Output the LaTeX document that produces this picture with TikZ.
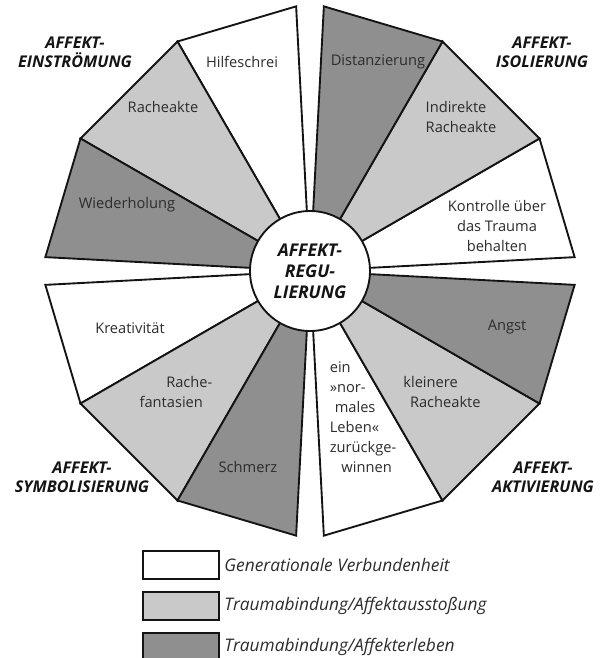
\documentclass[tikz,border=0pt]{standalone}
\usepackage{fontspec}
\setmainfont{Open Sans}
\usetikzlibrary{positioning}
\definecolor{affink}{HTML}{141414}
\definecolor{afflight}{HTML}{C9C9C9}
\definecolor{affdark}{HTML}{8F8F8F}
\tikzset{
  seg/.style={draw=affink, line width=1.6pt, line join=miter},
  lbl/.style={align=center, font=\fontsize{12.5}{17}\selectfont, text=affink!90, inner sep=0pt},
  ttl/.style={align=center, font=\fontsize{13.8}{16.5}\selectfont\bfseries\itshape, text=affink, inner sep=0pt},
  legbox/.style={draw=affink, line width=1.6pt, minimum width=22.8mm, minimum height=8.4mm, inner sep=0pt},
  legtxt/.style={font=\fontsize{14.8}{17}\selectfont\itshape, text=affink!90, inner sep=0pt},
}

\begin{document}
\begin{tikzpicture}[x=0.3mm, y=0.3mm]
  \useasboundingbox (-310,271) rectangle (293,-387);
  \foreach \a in {0,90,180,270}
    \foreach \f/\b/\e in {white/3/30, afflight/30/60, affdark/60/87}
      \draw[seg, fill=\f] (0,0) -- ({\a+\b}:265) -- ({\a+\e}:265) -- cycle;
  \node[circle, draw=affink, line width=1.6pt, fill=white, minimum size=36mm, ttl, font=\fontsize{15}{18}\selectfont\bfseries\itshape] (reg) at (0,0) {AFFEKT-\\REGU-\\LIERUNG};
  \node[lbl] (dist) at (68,209) {Distanzierung};
  \node[lbl, align=left] (indir) at (151,154) {Indirekte\\Racheakte};
  \node[lbl] (kontr) at (187,45) {Kontrolle über\\das Trauma\\behalten};
  \node[lbl] (hilfe) at (-68,209) {Hilfeschrei};
  \node[lbl] (rache) at (-147,164) {Racheakte};
  \node[lbl] (wieder) at (-183,66) {Wiederholung};
  \node[lbl] (kreat) at (-180,-57) {Kreativität};
  \node[lbl, align=left] (fant) at (-134,-121) {\hspace*{8mm}Rache-\\fantasien};
  \node[lbl] (schm) at (-62,-196) {Schmerz};
  \node[lbl, align=left] (leben) at (53,-146) {ein\\»nor-\\\hspace*{1.5mm}males\\Leben«\\zurückge-\\\hspace*{3.5mm}winnen};
  \node[lbl, align=left] (klein) at (132,-121) {kleinere\\\hspace*{2mm}Racheakte};
  \node[lbl] (angst) at (197,-56) {Angst};
  \node[ttl] (ein) at (-235,219) {AFFEKT-\\EINSTRÖMUNG};
  \node[ttl] (iso) at (232,219) {AFFEKT-\\ISOLIERUNG};
  \node[ttl] (sym) at (-228,-206) {AFFEKT-\\SYMBOLISIERUNG};
  \node[ttl] (akt) at (233,-206) {AFFEKT-\\AKTIVIERUNG};
  \node[legbox, fill=white, anchor=west] (kgen) at (-168,-294) {};
  \node[legbox, fill=afflight, below=3.3mm of kgen] (kaus) {};
  \node[legbox, fill=affdark, below=3.3mm of kaus] (kerl) {};
  \node[legtxt, right=1.3mm of kgen] (tgen) {Generationale Verbundenheit};
  \node[legtxt, right=1.3mm of kaus] (taus) {Traumabindung/Affektausstoßung};
  \node[legtxt, right=1.3mm of kerl] (terl) {Traumabindung/Affekterleben};
\end{tikzpicture}
\end{document}
